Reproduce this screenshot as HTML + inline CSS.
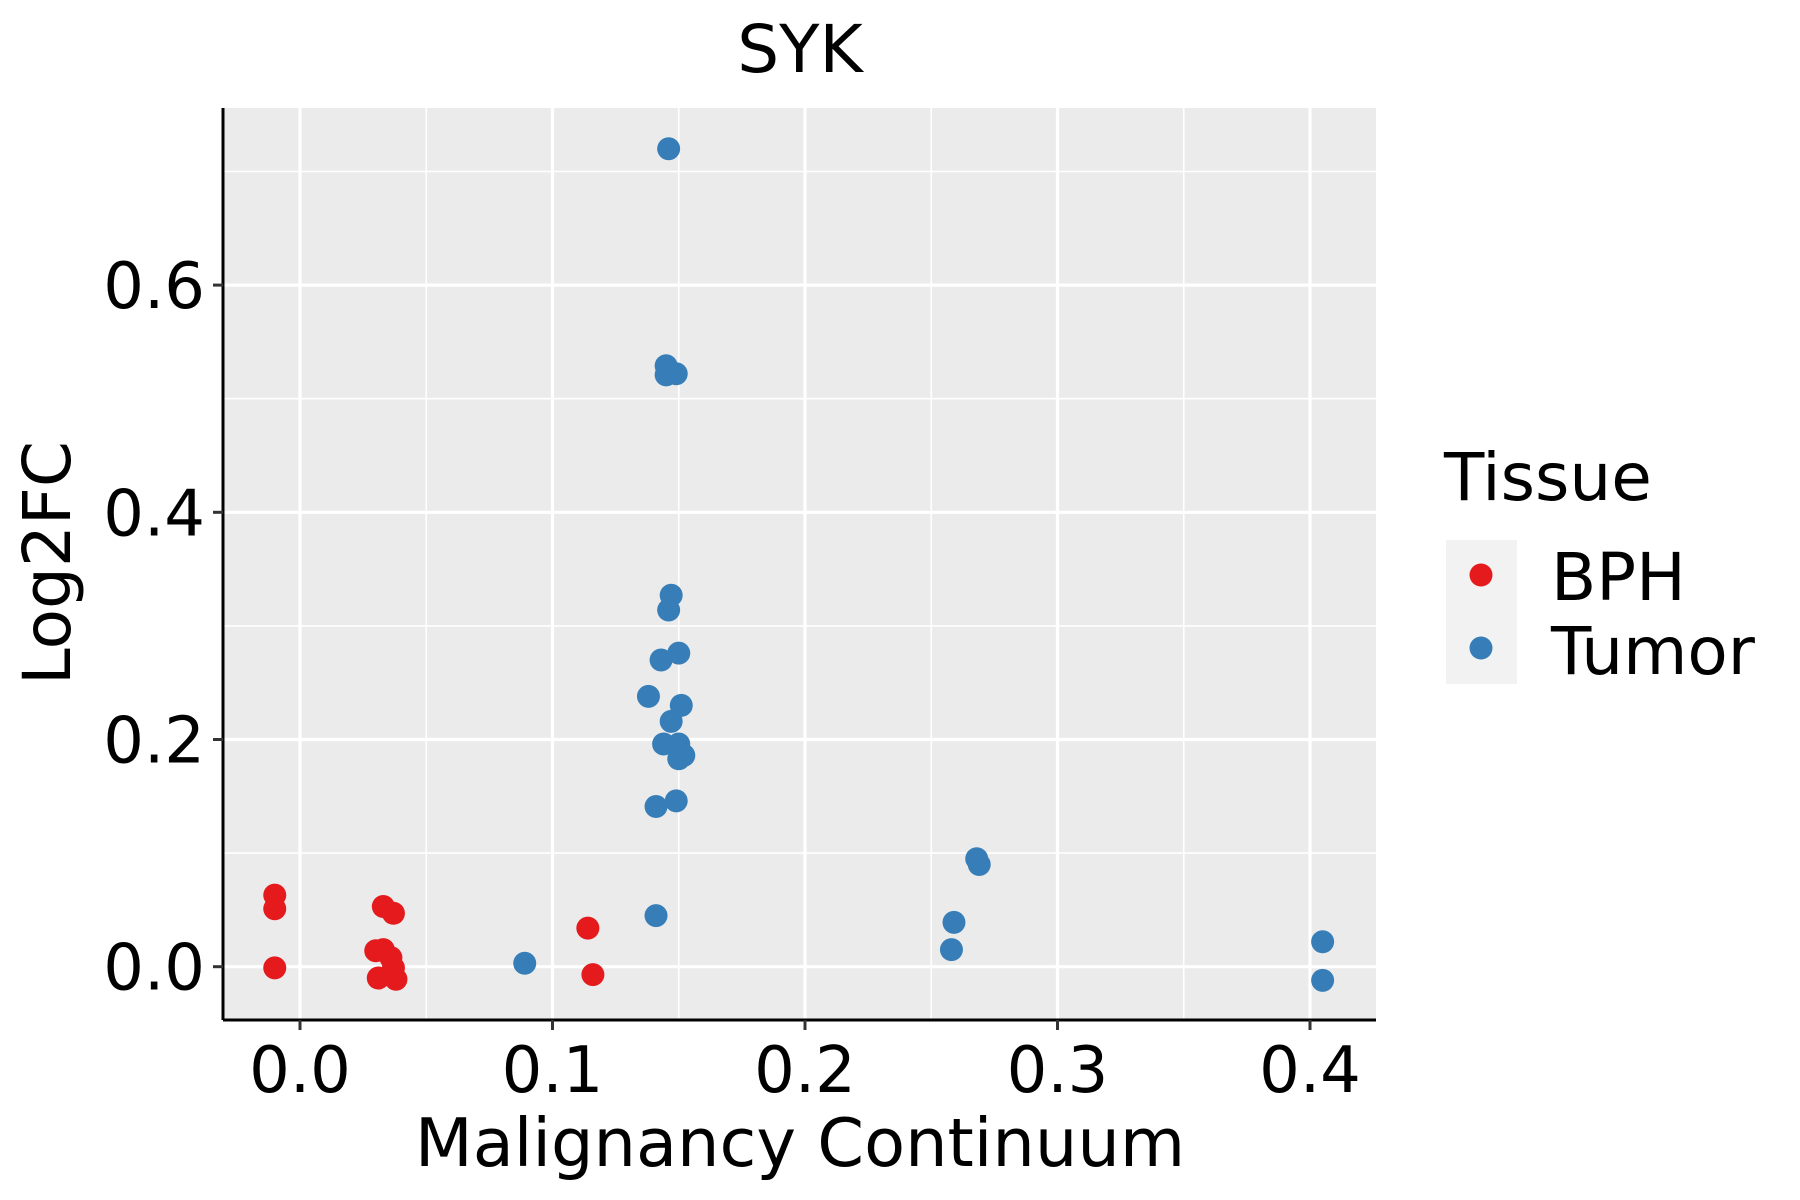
<!DOCTYPE html>
<html><head><meta charset="utf-8"><style>
html,body{margin:0;padding:0;background:#fff;}
svg{display:block;font-family:"DejaVu Sans","Liberation Sans",sans-serif;}
</style></head><body>
<svg id="chart" width="1800" height="1200" viewBox="0 0 1800 1200" xmlns="http://www.w3.org/2000/svg">
<text x="800" y="72" font-size="66" text-anchor="middle">SYK</text>
<rect x="223" y="108" width="1153" height="912" fill="#EBEBEB"/>
<g id="grid"></g>
<g id="points"></g>
<line x1="223" y1="1020" x2="1376" y2="1020" stroke="#000" stroke-width="3"/>
<line x1="223" y1="108" x2="223" y2="1020" stroke="#000" stroke-width="3"/>
<g id="ticks"></g>
<text x="800" y="1166" font-size="67" text-anchor="middle">Malignancy Continuum</text>
<text transform="translate(70,563) rotate(-90)" font-size="66" text-anchor="middle">Log2FC</text>
<g>
<text x="1444" y="500" font-size="66">Tissue</text>
<rect x="1446" y="540" width="71" height="144" fill="#F2F2F2"/>
<circle cx="1481" cy="575" r="11.5" fill="#E41A1C"/>
<circle cx="1481" cy="648" r="11.5" fill="#377EB8"/>
<text x="1551" y="600" font-size="66">BPH</text>
<text x="1551" y="674" font-size="66">Tumor</text>
</g>
</svg>
<script>
const xTicks=[0,0.1,0.2,0.3,0.4];
const xTickLabels=["0.0","0.1","0.2","0.3","0.4"];
const yTicks=[0,0.2,0.4,0.6];
const yTickLabels=["0.0","0.2","0.4","0.6"];
const bphX=[-0.010,-0.010,-0.010,0.033,0.037,0.030,0.033,0.036,0.037,0.031,0.038,0.114,0.116];
const bphY=[0.063,0.051,-0.001,0.053,0.047,0.014,0.015,0.008,-0.001,-0.010,-0.011,0.034,-0.007];
const tumorX=[0.146,0.145,0.145,0.149,0.147,0.146,0.150,0.143,0.138,0.151,0.147,0.144,0.150,0.150,0.152,0.149,0.141,0.141,0.089,0.268,0.269,0.259,0.258,0.405,0.405];
const tumorY=[0.720,0.529,0.521,0.522,0.327,0.314,0.276,0.270,0.238,0.230,0.216,0.196,0.196,0.183,0.186,0.146,0.141,0.045,0.003,0.095,0.090,0.039,0.015,0.022,-0.012];

const NS="http://www.w3.org/2000/svg";
const X0=223,X1=1376,Y0=108,Y1=1020;
function sx(v){return 300+v*2525;}
function sy(v){return 966.7-v*1136;}
function mk(tag,attrs,parent){const e=document.createElementNS(NS,tag);for(const k in attrs)e.setAttribute(k,attrs[k]);parent.appendChild(e);return e;}
const grid=document.getElementById('grid'),ticks=document.getElementById('ticks'),pts=document.getElementById('points');
for(let i=0;i<xTicks.length-1;i++){const v=(xTicks[i]+xTicks[i+1])/2;
 const l=mk('line',{x1:sx(v),x2:sx(v),y1:Y0,y2:Y1,stroke:'#fff','stroke-width':1.6},grid);
 
 }
for(let i=0;i<yTicks.length;i++){const v=yTicks[i]+0.1;
 const l=mk('line',{x1:X0,x2:X1,y1:sy(v),y2:sy(v),stroke:'#fff','stroke-width':1.6},grid);
 
 }
xTicks.forEach((v,i)=>{
 const l=mk('line',{x1:sx(v),x2:sx(v),y1:Y0,y2:Y1,stroke:'#fff','stroke-width':3.2},grid);
 
 
 const t=mk('line',{x1:sx(v),x2:sx(v),y1:Y1,y2:Y1+10,stroke:'#333','stroke-width':3},ticks);
 
 
 const tx=mk('text',{x:sx(v),y:1092,'font-size':64,'text-anchor':'middle'},ticks);tx.textContent=xTickLabels[i];
 
 
});
yTicks.forEach((v,i)=>{
 const l=mk('line',{x1:X0,x2:X1,y1:sy(v),y2:sy(v),stroke:'#fff','stroke-width':3.2},grid);
 
 
 const t=mk('line',{x1:X0-10,x2:X0,y1:sy(v),y2:sy(v),stroke:'#333','stroke-width':3},ticks);
 
 
 const tx=mk('text',{x:X0-18,y:sy(v)+23,'font-size':64,'text-anchor':'end'},ticks);tx.textContent=yTickLabels[i];
 
 
});
bphX.forEach((v,i)=>{
 const c=mk('circle',{cx:sx(v),cy:sy(bphY[i]),r:11.5,fill:'#E41A1C'},pts);
 
 
});
tumorX.forEach((v,i)=>{
 const c=mk('circle',{cx:sx(v),cy:sy(tumorY[i]),r:11.5,fill:'#377EB8'},pts);
 
 
});
</script>
</body></html>
